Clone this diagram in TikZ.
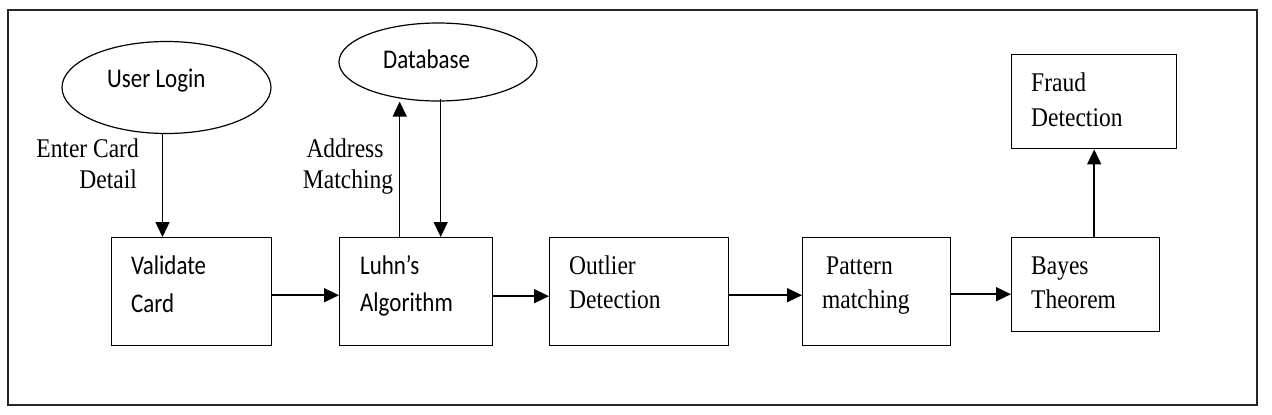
\documentclass[tikz,border=0pt]{standalone}
\usepackage{fontspec}
\setmainfont{Liberation Serif}[FakeStretch=0.87]
\newfontfamily\cb{Carlito}[FakeStretch=0.85]
\usetikzlibrary{arrows.meta,shapes.geometric}
\tikzset{
  box/.style={draw=black, line width=1.4pt, inner sep=0pt, anchor=north west},
  oval/.style={draw=black, ellipse, line width=1.2pt, inner sep=0pt},
  st/.style={font=\fontsize{27}{32}\selectfont, inner sep=0pt, anchor=base west},
  sc/.style={font=\cb\fontsize{27}{32}\selectfont, inner sep=0pt, anchor=base west},
  arr/.style={line width=1.5pt, -{Triangle[length=15pt,width=14pt]}},
}
\begin{document}
\begin{tikzpicture}[x=1pt,y=-1pt]
\useasboundingbox (0,0) rectangle (1272,415);
\draw[line width=1.6pt, draw=black!85] (8,10) rectangle (1257,405);
% ellipses
\node[oval, minimum width=209pt, minimum height=92pt] (login) at (166.5,87.5) {};
\node[oval, minimum width=198pt, minimum height=78pt] (db) at (438,62) {};
\node[sc] (tlogin) at (107,87) {User Login};
\node[sc] (tdb) at (383,68) {Database};
% boxes
\node[box, minimum width=160pt, minimum height=108pt] (val) at (111,237) {};
\node[box, minimum width=153pt, minimum height=108pt] (luhn) at (339,237) {};
\node[box, minimum width=179pt, minimum height=108pt] (out) at (549,237) {};
\node[box, minimum width=148pt, minimum height=108pt] (pat) at (802,237) {};
\node[box, minimum width=148pt, minimum height=94pt] (bay) at (1011,237) {};
\node[box, minimum width=165pt, minimum height=94pt] (fr) at (1011,54) {};
% texts
\node[sc] (v1) at (131,274) {Validate};
\node[sc] (v2) at (131,312) {Card};
\node[sc] (l1) at (360,274) {Luhn’s};
\node[sc] (l2) at (360,311) {Algorithm};
\node[st] (o1) at (569,274) {Outlier};
\node[st] (o2) at (569,308) {Detection};
\node[st] (p1) at (826,274) {Pattern};
\node[st] (p2) at (822,308) {matching};
\node[st] (b1) at (1031,274) {Bayes};
\node[st] (b2) at (1031,308) {Theorem};
\node[st] (f1) at (1031,91) {Fraud};
\node[st] (f2) at (1031,126) {Detection};
\node[st, anchor=base east] (e1) at (139,157) {Enter Card};
\node[st, anchor=base east] (e2) at (137,188) {Detail};
\node[st, anchor=base] (a1) at (345,157) {Address};
\node[st, anchor=base] (a2) at (348,188) {Matching};
% arrows
\draw[arr] ([xshift=-4pt]login.south) -- ([xshift=-4pt]login.south |- val.north);
\draw[arr] ([xshift=-16.5pt]luhn.north) -- ([xshift=-16.5pt]luhn.north |- db.south);
\draw[arr] ([xshift=24.5pt,yshift=3pt]luhn.north |- db.south) -- ([xshift=24.5pt]luhn.north);
\draw[arr] ([yshift=-3.5pt]val.east) -- ([yshift=-3.5pt]val.east -| luhn.west);
\draw[arr] ([yshift=-4.5pt]luhn.east) -- ([yshift=-4.5pt]luhn.east -| out.west);
\draw[arr] ([yshift=-3.5pt]out.east) -- ([yshift=-3.5pt]out.east -| pat.west);
\draw[arr] ([yshift=-2.5pt]pat.east) -- ([yshift=-2.5pt]pat.east -| bay.west);
\draw[arr] (bay.north -| fr.south) -- (fr.south);
\end{tikzpicture}
\end{document}
